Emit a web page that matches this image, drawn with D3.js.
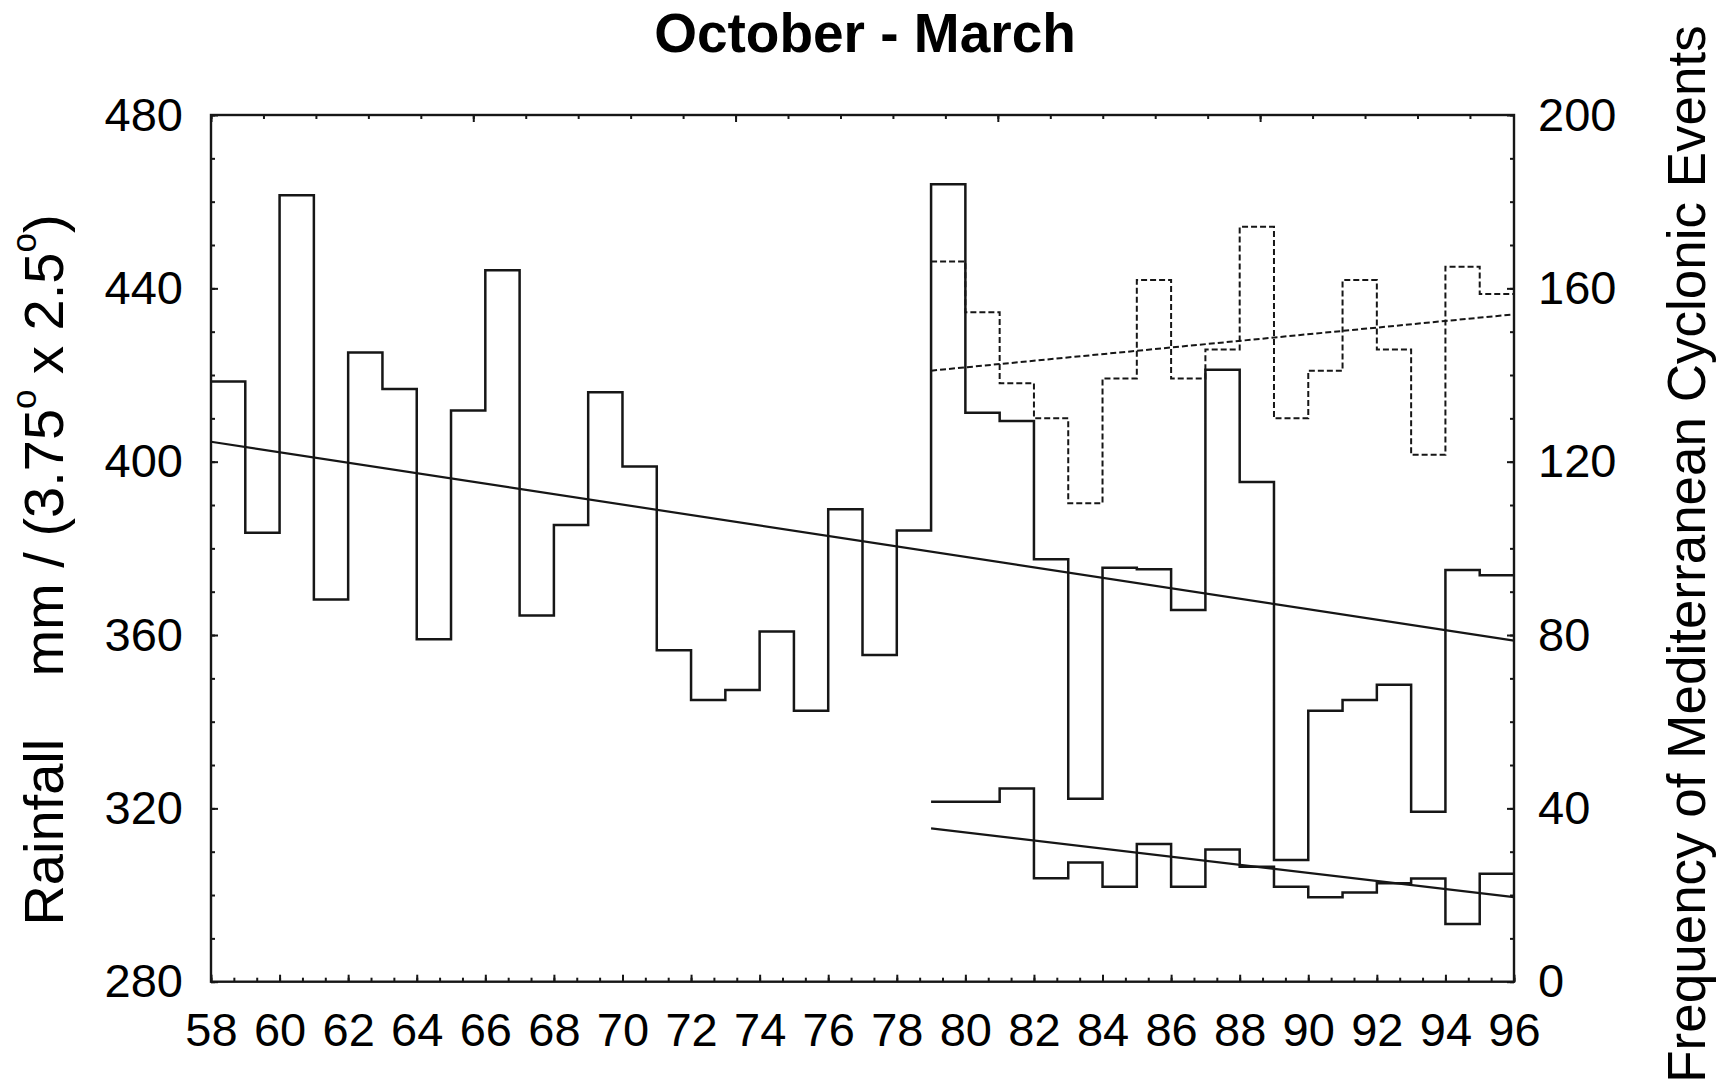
<!DOCTYPE html>
<html>
<head>
<meta charset="utf-8">
<script src="https://cdn.jsdelivr.net/npm/d3@7"></script>
<style>
  body { margin: 0; background: #fff; }
  text { font-family: "Liberation Sans", Arial, Helvetica, sans-serif; fill: #000; }
</style>
</head>
<body>
<div id="chart"></div>
<script>
// rainfall, mm per 3.75 x 2.5 deg box, one value per year starting 1958
const rainStart = 58;
const rainfall = [418.5, 383.6, 461.5, 368.2, 425.2, 416.8, 359.0, 411.8, 444.2, 364.5,
                  385.4, 416.0, 398.9, 356.5, 345.0, 347.3, 360.8, 342.5, 389.0, 355.4,
                  384.1, 464.0, 411.3, 409.4, 377.5, 322.2, 375.5, 375.2, 365.8, 421.2,
                  395.3, 308.1, 342.5, 345.0, 348.5, 319.2, 375.0, 373.8];

// cyclonic events, from 1979
const cycStart = 79;
const cycloneAll = [166.2, 154.5, 138.1, 130.0, 110.4, 139.2, 161.9, 139.2, 145.9, 174.2,
                    130.0, 141.0, 161.9, 145.9, 121.6, 165.0, 158.7];
const cycloneLow = [41.5, 41.5, 44.6, 23.9, 27.5, 21.9, 31.8, 21.9, 30.5, 26.5,
                    21.9, 19.5, 20.6, 22.7, 23.8, 13.3, 24.9];

// linear trends, value at start and at end (96)
const rainTrend = [404.6, 358.7];
const cycAllTrend = [141.0, 154.0];
const cycLowTrend = [35.4, 19.5];

const yearTicks = [58, 60, 62, 64, 66, 68, 70, 72, 74, 76, 78, 80, 82, 84, 86, 88, 90, 92, 94, 96];
const rainTicks = [280, 320, 360, 400, 440, 480];
const freqTicks = [0, 40, 80, 120, 160, 200];

const W = 1725, H = 1083;
const pL = 211, pR = 1514, pT = 115, pB = 981.7;
const ink = "#161616";

const svg = d3.select("#chart").append("svg")
    .attr("width", W).attr("height", H);

const x = d3.scaleLinear().domain([58, 96]).range([pL, pR]);
const yL = d3.scaleLinear().domain([280, 480]).range([pB, pT]);
const yR = d3.scaleLinear().domain([0, 200]).range([pB, pT]);
// top edge ticks run on their own spacing
const xTop = d3.scaleLinear().domain([0, 24.84]).range([pL, pR]);

function styleAxis(g) {
    g.select(".domain").remove();
    g.selectAll("line").attr("stroke", ink).attr("stroke-width", 2);
    g.selectAll("text").style("font-size", "47px").attr("fill", "#000");
}

// minor ticks
svg.append("g").attr("transform", `translate(0,${pB})`)
    .call(d3.axisBottom(x).tickValues(d3.range(58, 96.01, 2 / 3)).tickSize(-4).tickFormat(""))
    .call(styleAxis);
svg.append("g").attr("transform", `translate(${pL},0)`)
    .call(d3.axisLeft(yL).tickValues(d3.range(280, 481, 10)).tickSize(-4).tickFormat(""))
    .call(styleAxis);
svg.append("g").attr("transform", `translate(${pR},0)`)
    .call(d3.axisRight(yR).tickValues(d3.range(0, 201, 10)).tickSize(-4).tickFormat(""))
    .call(styleAxis);
svg.append("g").attr("transform", `translate(0,${pT})`)
    .call(d3.axisTop(xTop).tickValues(d3.range(0, 25)).tickSize(-4).tickFormat(""))
    .call(styleAxis);

// major ticks + labels
svg.append("g").attr("transform", `translate(0,${pB})`)
    .call(d3.axisBottom(x).tickValues(yearTicks).tickSize(-7).tickPadding(31).tickFormat(d3.format("d")))
    .call(styleAxis);
svg.append("g").attr("transform", `translate(${pL},0)`)
    .call(d3.axisLeft(yL).tickValues(rainTicks).tickSize(-7).tickPadding(28))
    .call(styleAxis);
svg.append("g").attr("transform", `translate(${pR},0)`)
    .call(d3.axisRight(yR).tickValues(freqTicks).tickSize(-7).tickPadding(24))
    .call(styleAxis);
svg.append("g").attr("transform", `translate(0,${pT})`)
    .call(d3.axisTop(xTop).tickValues([0, 5, 10, 15, 20]).tickSize(-7).tickFormat(""))
    .call(styleAxis);

// frame
svg.append("rect")
    .attr("x", pL).attr("y", pT)
    .attr("width", pR - pL).attr("height", pB - pT)
    .attr("fill", "none").attr("stroke", ink).attr("stroke-width", 2.4);

function stepPoints(start, vals) {
    const pts = vals.map((v, i) => [start + i, v]);
    pts.push([start + vals.length, vals[vals.length - 1]]);
    return pts;
}

const stepL = d3.line().x(d => x(d[0])).y(d => yL(d[1])).curve(d3.curveStepAfter);
const stepR = d3.line().x(d => x(d[0])).y(d => yR(d[1])).curve(d3.curveStepAfter);
const lineL = d3.line().x(d => x(d[0])).y(d => yL(d[1]));
const lineR = d3.line().x(d => x(d[0])).y(d => yR(d[1]));

const plot = svg.append("g").attr("fill", "none").attr("stroke", ink);

plot.append("path")
    .attr("d", stepL(stepPoints(rainStart, rainfall)))
    .attr("stroke-width", 2.5);
plot.append("path")
    .attr("d", lineL([[rainStart, rainTrend[0]], [96, rainTrend[1]]]))
    .attr("stroke-width", 2.2);

plot.append("path")
    .attr("d", stepR(stepPoints(cycStart, cycloneAll)))
    .attr("stroke-width", 2)
    .attr("stroke-dasharray", "6,3");
plot.append("path")
    .attr("d", lineR([[cycStart, cycAllTrend[0]], [96, cycAllTrend[1]]]))
    .attr("stroke-width", 2)
    .attr("stroke-dasharray", "6,3");

plot.append("path")
    .attr("d", stepR(stepPoints(cycStart, cycloneLow)))
    .attr("stroke-width", 2.5);
plot.append("path")
    .attr("d", lineR([[cycStart, cycLowTrend[0]], [96, cycLowTrend[1]]]))
    .attr("stroke-width", 2.2);

// title
svg.append("text")
    .attr("x", 865).attr("y", 52)
    .attr("text-anchor", "middle")
    .style("font-size", "55px").style("font-weight", "bold")
    .text("October - March");

// left axis title with superscript degree marks
const lt = svg.append("text")
    .attr("transform", "translate(63,570) rotate(-90)")
    .attr("text-anchor", "middle")
    .style("font-size", "56px")
    .style("white-space", "pre");
lt.append("tspan").text("Rainfall    mm / (3.75");
lt.append("tspan").attr("dy", -27).style("font-size", "35px").text("o");
lt.append("tspan").attr("dy", 27).text(" x 2.5");
lt.append("tspan").attr("dy", -27).style("font-size", "35px").text("o");
lt.append("tspan").attr("dy", 27).text(")");

svg.append("text")
    .attr("transform", "translate(1705,554) rotate(-90)")
    .attr("text-anchor", "middle")
    .style("font-size", "53px")
    .text("Frequency of Mediterranean Cyclonic Events");
</script>
</body>
</html>
